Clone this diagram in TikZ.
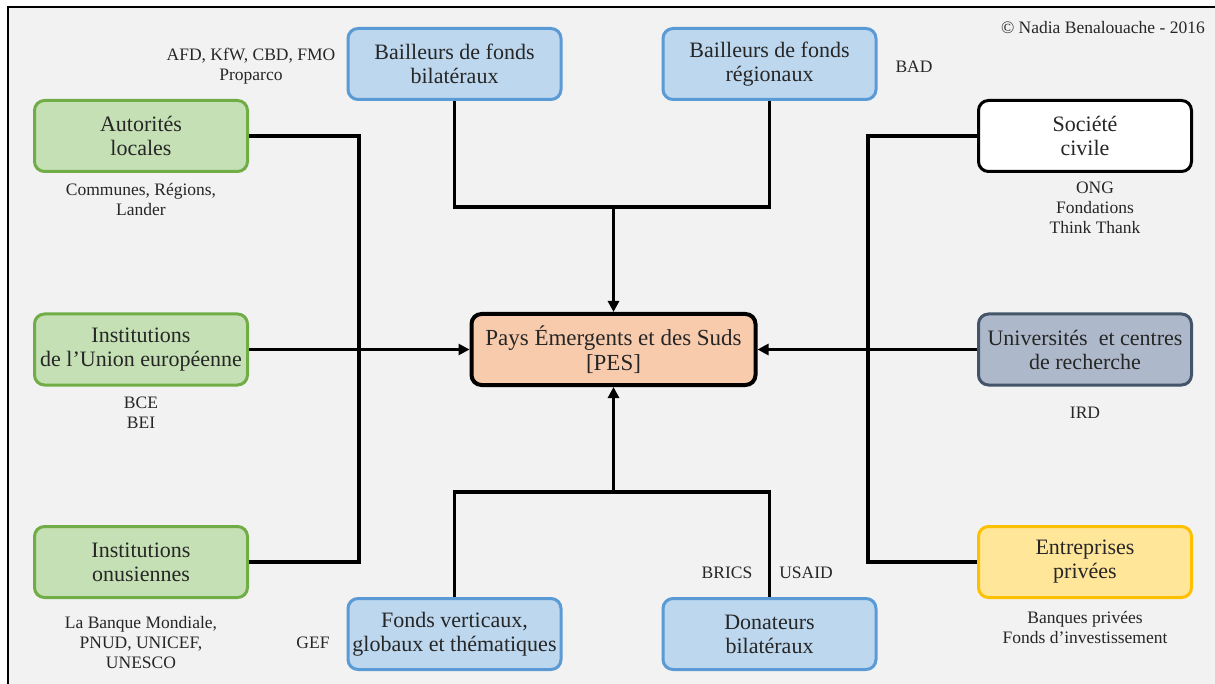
\documentclass[tikz,border=0pt]{standalone}
\usepackage{fontspec}
\setmainfont{LiberationSerif}[Extension=.ttf, UprightFont=*-Regular, BoldFont=*-Bold, ItalicFont=*-Italic, BoldItalicFont=*-BoldItalic]
\usetikzlibrary{arrows.meta}
\definecolor{bgc}{HTML}{F2F2F2}
\definecolor{txtc}{HTML}{262626}
\definecolor{grfill}{HTML}{C5E0B4}
\definecolor{grdraw}{HTML}{70AD47}
\definecolor{blfill}{HTML}{BDD7EE}
\definecolor{bldraw}{HTML}{5B9BD5}
\definecolor{orfill}{HTML}{F8CBAD}
\definecolor{unfill}{HTML}{ADB9CA}
\definecolor{undraw}{HTML}{44546A}
\definecolor{yefill}{HTML}{FFE699}
\definecolor{yedraw}{HTML}{FFC000}
\newcommand\bxfont{\fontsize{22}{24}\selectfont}
\newcommand\pesfont{\fontsize{23}{25}\selectfont}
\newcommand\lbfont{\fontsize{17.5}{20}\selectfont}
\begin{document}
\begin{tikzpicture}[x=1pt,y=-1pt,
  box/.style={rounded corners=10pt, line width=3pt, minimum width=213pt, minimum height=71pt,
    align=center, font=\bxfont, text=txtc, inner sep=0pt},
  greenbox/.style={box, fill=grfill, draw=grdraw},
  bluebox/.style={box, fill=blfill, draw=bldraw},
  lbl/.style={align=center, font=\lbfont, text=txtc, inner sep=0pt},
  link/.style={line width=3.5pt, draw=black},
  arr/.style={link, -{Triangle[length=11pt,width=11pt]}}]
\useasboundingbox (0,0) rectangle (1215,684);
\clip (0,0) rectangle (1215,684);
\fill[white] (0,0) rectangle (1215,684);
\filldraw[fill=bgc, draw=black, line width=2pt] (8,7) rectangle (1240,710);

% boxes
\node[bluebox] (bil) at (454.5,64) {Bailleurs de fonds\\bilatéraux};
\node[bluebox] (reg) at (769.5,64) {Bailleurs de fonds\\régionaux};
\node[greenbox] (auto) at (141,136) {Autorités\\locales};
\node[greenbox] (ue) at (141,349.5) {Institutions\\de l’Union européenne};
\node[greenbox] (onu) at (141,562) {Institutions\\onusiennes};
\node[box, fill=orfill, draw=black, line width=4pt, minimum width=284pt, font=\pesfont] (pes) at (613.5,349.5) {Pays Émergents et des Suds\\{[}PES{]}};
\node[box, fill=white, draw=black] (soc) at (1085,136) {Société\\civile};
\node[box, fill=unfill, draw=undraw] (univ) at (1085,349.5) {Universités\ \ et centres\\de recherche};
\node[box, fill=yefill, draw=yedraw] (ent) at (1085,562) {Entreprises\\privées};
\node[bluebox] (fv) at (454.5,634) {Fonds verticaux,\\globaux et thématiques};
\node[bluebox] (don) at (769.5,634) {Donateurs\\bilatéraux};

% labels
\node[lbl] (lafd) at (251,66) {AFD, KfW, CBD, FMO\\Proparco};
\node[lbl] (lbad) at (914,67) {BAD};
\node[lbl, anchor=east] (lcopy) at (1205,28) {© Nadia Benalouache - 2016};
\node[lbl] (lcom) at (141,200) {Communes, Régions,\\Lander};
\node[lbl] (lue) at (141,413) {BCE\\BEI};
\node[lbl] (lonu) at (141,643) {La Banque Mondiale,\\PNUD, UNICEF,\\UNESCO};
\node[lbl] (lgef) at (313,643) {GEF};
\node[lbl] (lbr) at (727,573) {BRICS};
\node[lbl] (lus) at (806,573) {USAID};
\node[lbl] (lsoc) at (1095,208) {ONG\\Fondations\\Think Thank};
\node[lbl] (lird) at (1085,413) {IRD};
\node[lbl] (lent) at (1085,627) {Banques privées\\Fonds d’investissement};

% junctions
\coordinate (lx) at (359,349.5);
\coordinate (rx) at (868,349.5);
\coordinate (topj) at (613.5,207);
\coordinate (botj) at (613.5,492);

% connectors
\draw[link] (auto.east) -- (auto.east -| lx) -- (onu.east -| lx) -- (onu.east);
\draw[arr] (ue.east) -- (pes.west);
\draw[link] (soc.west) -- (soc.west -| rx) -- (ent.west -| rx) -- (ent.west);
\draw[arr] (univ.west) -- (pes.east);
\draw[link] (bil.south) |- (topj) -| (reg.south);
\draw[arr] (topj) -- (pes.north);
\draw[link] (fv.north) |- (botj) -| (don.north);
\draw[arr] (botj) -- (pes.south);
\end{tikzpicture}
\end{document}
